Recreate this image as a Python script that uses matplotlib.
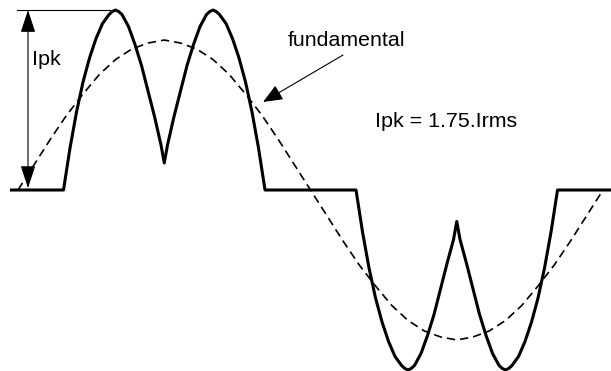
import matplotlib
matplotlib.use('Agg')
import matplotlib.pyplot as plt

plt.rcParams['font.family'] = ['Liberation Sans', 'DejaVu Sans']

# fundamental (dashed), sampled every 10 degrees, per-unit
fund_deg = list(range(0, 361, 10))
fund_val = [0, .17, .34, .50, .64, .77, .87, .94, .98, 1.00, .98, .94, .87, .77, .64, .50, .34, .17,
            0, -.17, -.34, -.50, -.64, -.77, -.87, -.94, -.98, -1.00, -.98, -.94, -.87, -.77, -.64, -.50, -.34, -.17, 0]

# line current (solid)
cur_deg = [-4, 28, 32, 36, 40, 44, 48, 52, 56, 58, 60, 62, 64, 68, 72, 76, 80, 84, 88, 90,
           92, 96, 100, 104, 108, 112, 116, 118, 120, 122, 124, 128, 132, 136, 140, 144, 148, 152,
           208, 212, 216, 220, 224, 228, 232, 236, 238, 240, 242, 244, 248, 252, 256, 260, 264, 268, 270,
           272, 276, 280, 284, 288, 292, 296, 298, 300, 302, 304, 308, 312, 316, 320, 324, 328, 332, 368]
cur_val = [0, 0, .28, .52, .72, .88, 1.01, 1.11, 1.17, 1.19, 1.20, 1.19, 1.17, 1.09, .97, .83, .66, .49, .30, .18,
           .30, .49, .66, .83, .97, 1.09, 1.17, 1.19, 1.20, 1.19, 1.17, 1.11, 1.01, .88, .72, .52, .28, 0,
           0, -.28, -.52, -.72, -.88, -1.01, -1.11, -1.17, -1.19, -1.20, -1.19, -1.17, -1.09, -.97, -.83, -.66, -.49, -.33, -.21,
           -.33, -.49, -.66, -.83, -.97, -1.09, -1.17, -1.19, -1.20, -1.19, -1.17, -1.11, -1.01, -.88, -.72, -.52, -.28, 0, 0]

ipk = 1.20

fig = plt.figure(figsize=(6.11, 3.71), dpi=100)
ax = fig.add_axes([0, 0, 1, 1])
ax.set_xlim(-11.08, 364.9)
ax.set_ylim(-1.207, 1.267)
ax.axis('off')

ax.plot(fund_deg, fund_val, color='black', lw=1.2, dashes=(5, 3))
ax.plot(cur_deg, cur_val, color='black', lw=2.2)

# Ipk marker
ax.plot([-0.6, 56.6], [ipk, ipk], color='black', lw=0.8)
ax.annotate('', xy=(6.15, ipk), xytext=(6.15, 0.013),
            arrowprops=dict(arrowstyle='<|-|>,head_length=14,head_width=4.6', mutation_scale=1,
                            color='black', lw=0.8, shrinkA=0, shrinkB=0))
ax.text(8.6, 0.833, 'Ipk', fontsize=15.4, ha='left', va='baseline')

# fundamental label
ax.annotate('', xy=(150.8, 0.587), xytext=(200, 0.9),
            arrowprops=dict(arrowstyle='-|>,head_length=12,head_width=5', mutation_scale=1,
                            color='black', lw=0.8, shrinkA=0, shrinkB=0))
ax.text(166.2, 0.96, 'fundamental', fontsize=15.4, ha='left', va='baseline')

ax.text(219.7, 0.42, 'Ipk = 1.75.Irms', fontsize=15.4, ha='left', va='baseline')

fig.savefig('out.png', dpi=100, facecolor='white')
